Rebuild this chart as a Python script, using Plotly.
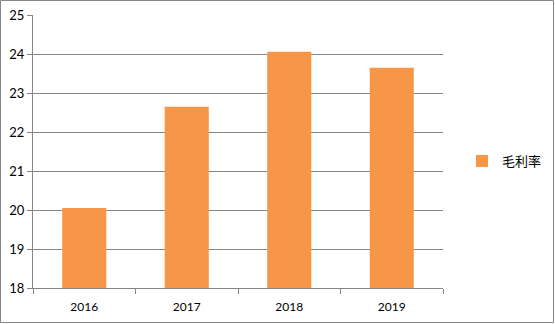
import plotly.graph_objects as go

years = ["2016", "2017", "2018", "2019"]
gross_margin = [20.05, 22.65, 24.06, 23.65]
series_name = "毛利率"

W, H = 555, 324
L, R, T, B = 33, 112, 15, 36
pw, ph = W - L - R, H - T - B

font = dict(family="Lato, 'Noto Sans CJK SC', sans-serif", size=12, color="#000000")

fig = go.Figure()
fig.add_trace(go.Bar(x=years, y=gross_margin, name=series_name,
                     marker=dict(color="#F79646", line=dict(width=0)),
                     width=0.43))

fig.update_layout(
    width=W, height=H,
    margin=dict(l=L, r=R, t=T, b=B, autoexpand=False),
    paper_bgcolor="white", plot_bgcolor="white",
    font=font,
    showlegend=True,
    legend=dict(x=(462 - L) / pw, y=(288 - 161) / ph, xanchor="left", yanchor="middle",
                font=dict(family="'Noto Sans CJK SC', sans-serif", size=13),
                itemwidth=30, bgcolor="rgba(0,0,0,0)"),
    bargap=0.57,
)
fig.update_xaxes(showline=True, linecolor="#868686", linewidth=1,
                 ticks="outside", tickson="boundaries", ticklen=5, tickcolor="#868686",
                 showgrid=False, tickfont=dict(size=12), ticklabelstandoff=8)
fig.update_yaxes(range=[18, 25], dtick=1, showline=True, linecolor="#868686", linewidth=1,
                 ticks="outside", ticklen=5, tickcolor="#868686",
                 showgrid=True, gridcolor="#868686", gridwidth=1, zeroline=False,
                 tickfont=dict(size=13))
fig.add_shape(type="rect", xref="paper", yref="paper",
              x0=(0.5 - L) / pw, x1=(W - 1.5 - L) / pw,
              y0=-(B - 1.5) / ph,
              y1=(H - B - 0.5) / ph,
              line=dict(color="#868686", width=1), fillcolor="rgba(0,0,0,0)", layer="below")
fig.write_html("out.html")
